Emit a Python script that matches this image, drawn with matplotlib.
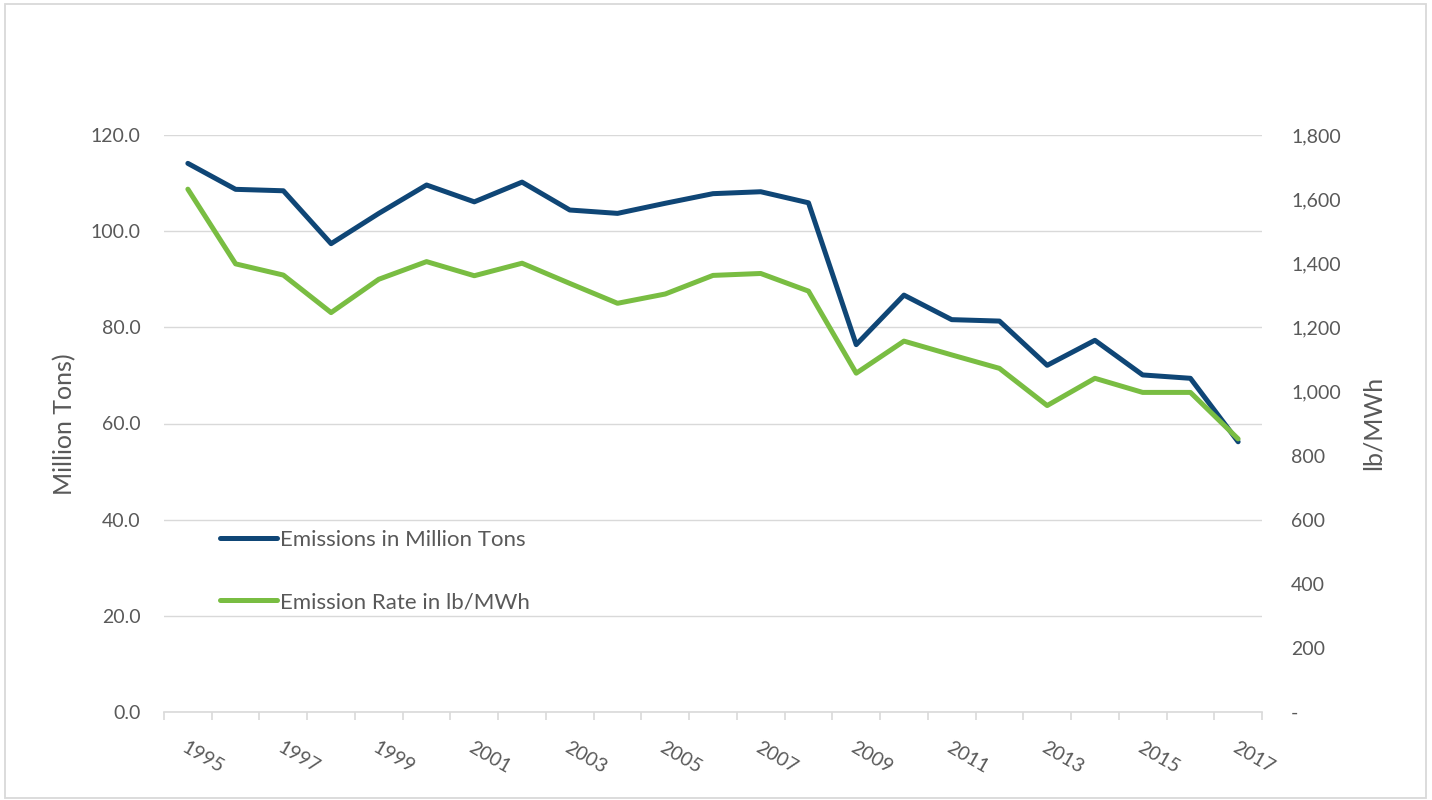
import numpy as np
import matplotlib
matplotlib.use("Agg")
import matplotlib.pyplot as plt
from matplotlib.patches import Rectangle
from matplotlib.ticker import FuncFormatter

plt.rcParams['font.family'] = ['Lato', 'DejaVu Sans']

years = list(range(1995, 2018))
emissions_mt = [114.1, 108.7, 108.4, 97.4, 103.7, 109.6, 106.1, 110.2, 104.4, 103.7,
                105.8, 107.8, 108.2, 105.9, 76.4, 86.7, 81.6, 81.3, 72.1, 77.3,
                70.1, 69.4, 56.2]
rate_lb_mwh = [1631, 1398, 1363, 1246, 1350, 1405, 1361, 1400, 1337, 1275,
               1304, 1362, 1368, 1313, 1057, 1157, 1114, 1072, 956, 1041,
               997, 997, 852]

BLUE = '#0f4676'
GREEN = '#79bd42'
GRID = '#d9d9d9'
TXT = '#595959'
FS = 14
FS_LEG = 16
FS_TITLE = 18

W, H = 1432, 800
fig = plt.figure(figsize=(W / 100, H / 100), dpi=100)
fig.patch.set_facecolor('white')

# chart border
fig.patches.append(Rectangle((5 / W, 2 / H), 1421 / W, 794 / H, transform=fig.transFigure,
                             fill=False, edgecolor=GRID, lw=1.3))

ax = fig.add_axes([164 / W, 1 - 712 / H, 1098 / W, 577 / H])
ax2 = ax.twinx()

x = np.arange(len(years))
l1, = ax.plot(x, emissions_mt, color=BLUE, lw=3.6, solid_capstyle='round',
              solid_joinstyle='round', label='Emissions in Million Tons')
l2, = ax2.plot(x, rate_lb_mwh, color=GREEN, lw=3.6, solid_capstyle='round',
               solid_joinstyle='round', label='Emission Rate in lb/MWh')

ax.set_xlim(-0.5, len(years) - 0.5)
ax.set_ylim(0, 120)
ax2.set_ylim(0, 1800)
ax.set_yticks(np.arange(0, 121, 20))
ax2.set_yticks(np.arange(0, 1801, 200))
ax.yaxis.set_major_formatter(FuncFormatter(lambda v, p: f'{v:.1f}'))
ax2.yaxis.set_major_formatter(FuncFormatter(lambda v, p: '-' if v == 0 else f'{v:,.0f}'))

ax.grid(axis='y', color=GRID, lw=1)
ax.set_axisbelow(True)

for a in (ax, ax2):
    for s in ('top', 'left', 'right'):
        a.spines[s].set_visible(False)
ax2.spines['bottom'].set_visible(False)
ax.spines['bottom'].set_color(GRID)
ax.spines['bottom'].set_linewidth(1.2)

# tick marks between categories, labels on every other year
ax.set_xticks(np.arange(-0.5, len(years)), labels=[''] * (len(years) + 1))
ax.tick_params(axis='x', which='major', length=6, color=GRID, width=1.2)
ax.set_xticks(x[::2], labels=[str(y) for y in years[::2]], minor=True)
ax.tick_params(axis='x', which='minor', length=0, pad=19, labelsize=FS, labelcolor=TXT)
for t in ax.get_xticklabels(minor=True):
    t.set_rotation(-30)
    t.set_ha('left')
    t.set_va('top')
    t.set_rotation_mode('anchor')

ax.tick_params(axis='y', length=0, pad=17, labelsize=FS, labelcolor=TXT)
ax2.tick_params(axis='y', length=0, pad=21, labelsize=FS, labelcolor=TXT)

fig.text(65 / W, 1 - 424 / H, 'Million Tons)', rotation=90, ha='center', va='center',
         fontsize=FS_TITLE, color=TXT)
fig.text(1373 / W, 1 - 423 / H, 'lb/MWh', rotation=90, ha='center', va='center',
         fontsize=FS_TITLE, color=TXT)

leg = fig.legend(handles=[l1, l2], loc='upper left', bbox_to_anchor=(220 / W, 1 - 530 / H),
                 frameon=False, fontsize=FS_LEG, handlelength=2.57, handletextpad=0.13,
                 labelspacing=1.9, borderpad=0, borderaxespad=0)
for t in leg.get_texts():
    t.set_color(TXT)

fig.savefig('out.png', dpi=100)
